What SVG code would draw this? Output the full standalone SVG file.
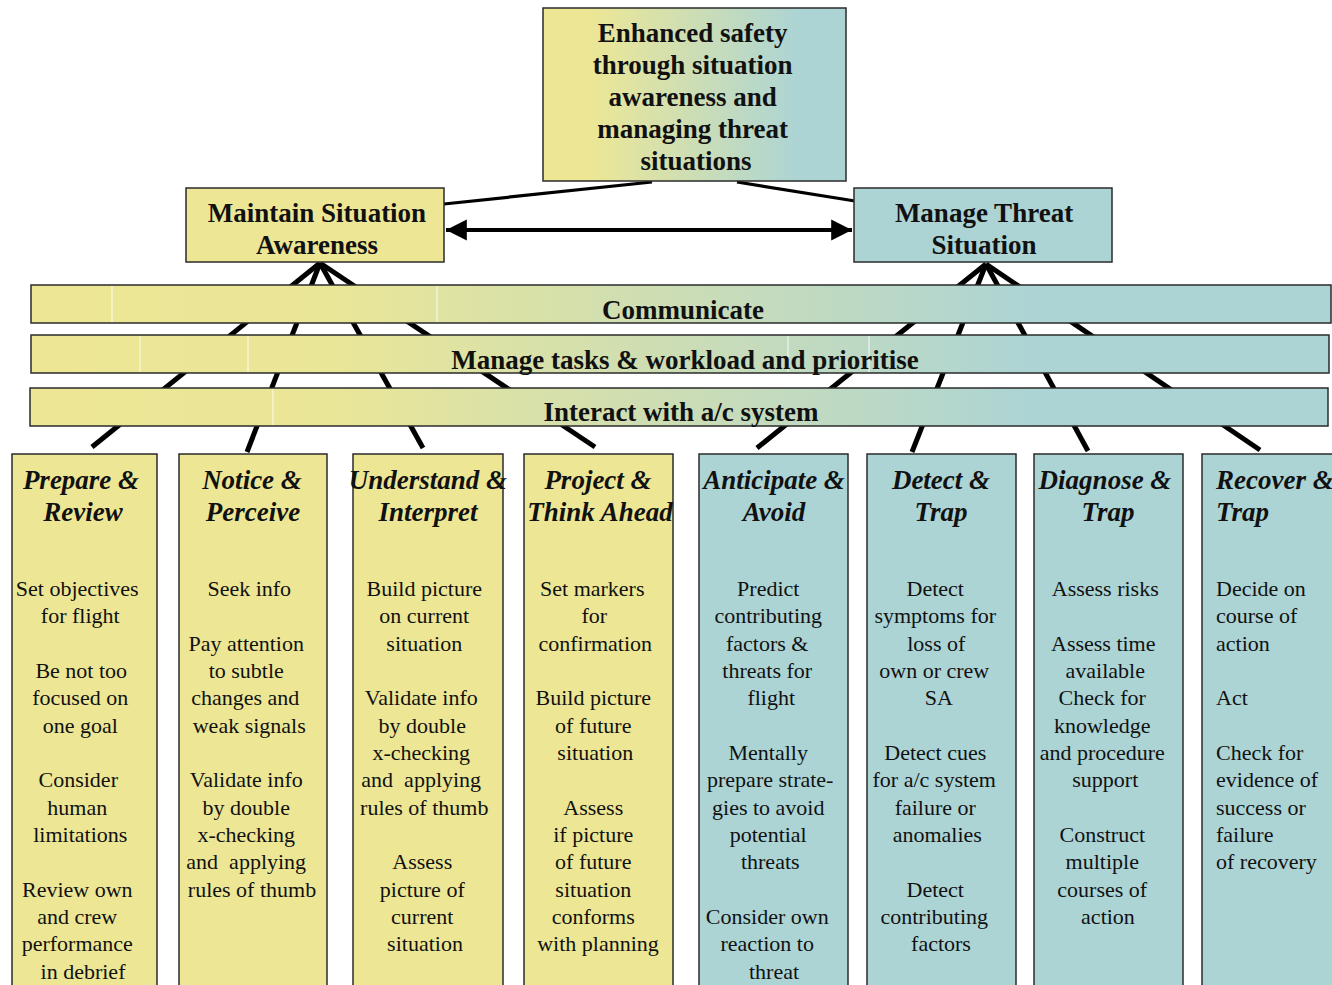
<svg xmlns="http://www.w3.org/2000/svg" width="1332" height="985" viewBox="0 0 1332 985">
  <style>
    .bx { stroke: #2b2b2b; stroke-width: 1.5; }
    .ylw { fill: #EDE795; }
    .tea { fill: #ACD4D5; }
    text { font-family: 'Liberation Serif', 'Times New Roman', 'DejaVu Serif', serif; fill: #111; }
    .ttl { font-weight: bold; font-size: 27px; text-anchor: middle; }
    .hd { font-weight: bold; font-style: italic; font-size: 27px; text-anchor: middle; }
    .bd { font-size: 22px; text-anchor: middle; }
    .lft { text-anchor: start; }
    .ln { stroke: #000; stroke-width: 5; stroke-linecap: butt; fill: none; }
    .thin { stroke: #000; stroke-width: 3.2; fill: none; }
    .seam { stroke: #fff; stroke-width: 1; opacity: 0.9; }
  </style>
  <defs>
    <linearGradient id="gTop" x1="0" y1="0" x2="1" y2="0">
      <stop offset="0" stop-color="#EDE795"/>
      <stop offset="0.15" stop-color="#EDE795"/>
      <stop offset="0.85" stop-color="#ACD4D5"/>
      <stop offset="1" stop-color="#ACD4D5"/>
    </linearGradient>
    <linearGradient id="gBand" x1="0" y1="0" x2="1" y2="0">
      <stop offset="0" stop-color="#EDE795"/>
      <stop offset="0.23" stop-color="#EAE697"/>
      <stop offset="0.78" stop-color="#ACD4D5"/>
      <stop offset="1" stop-color="#ACD4D5"/>
    </linearGradient>
    <marker id="ah" viewBox="0 0 10 10" refX="10" refY="5" markerWidth="5.2" markerHeight="5.6" orient="auto-start-reverse" markerUnits="strokeWidth">
      <path d="M0,0 L10,5 L0,10 Z" fill="#000"/>
    </marker>
  </defs>

  <rect width="1332" height="985" fill="#fff"/>

  <!-- connectors -->
  <g id="connectors">
    <line class="thin" x1="652" y1="182" x2="444" y2="204"/>
    <line class="thin" x1="737" y1="182" x2="855" y2="201"/>
    <line x1="446" y1="230" x2="852" y2="230" stroke="#000" stroke-width="4" marker-start="url(#ah)" marker-end="url(#ah)"/>
    <!-- fan from situation awareness -->
    <line class="ln" x1="320" y1="263" x2="92" y2="447"/>
    <line class="ln" x1="320" y1="263" x2="247" y2="452"/>
    <line class="ln" x1="320" y1="263" x2="423" y2="448"/>
    <line class="ln" x1="320" y1="263" x2="595" y2="447"/>
    <!-- fan from threat management -->
    <line class="ln" x1="986" y1="264" x2="757" y2="448"/>
    <line class="ln" x1="986" y1="264" x2="912" y2="452"/>
    <line class="ln" x1="986" y1="264" x2="1088" y2="451"/>
    <line class="ln" x1="986" y1="264" x2="1260" y2="450"/>
  </g>

  <g id="goal">
    <rect class="bx" x="543" y="8" width="303" height="173" fill="url(#gTop)"/>
    <text class="ttl">
      <tspan x="696" y="42">Enhanced safety</tspan>
      <tspan x="696" y="74">through situation</tspan>
      <tspan x="696" y="106">awareness and</tspan>
      <tspan x="696" y="138">managing threat</tspan>
      <tspan x="696" y="170">situations</tspan>
    </text>
  </g>

  <g id="maintain-sa">
    <rect class="bx ylw" x="186" y="188" width="258" height="74"/>
    <text class="ttl"><tspan x="317" y="222">Maintain Situation</tspan><tspan x="317" y="254">Awareness</tspan></text>
  </g>

  <g id="manage-threat">
    <rect class="bx tea" x="854" y="188" width="258" height="74"/>
    <text class="ttl"><tspan x="984" y="222">Manage Threat</tspan><tspan x="984" y="254">Situation</tspan></text>
  </g>

  <g id="communicate">
    <rect class="bx" x="31" y="285" width="1300" height="38" fill="url(#gBand)"/>
    <line class="seam" x1="112" y1="286" x2="112" y2="322"/>
    <line class="seam" x1="437" y1="286" x2="437" y2="322"/>
    <text class="ttl" x="683" y="319">Communicate</text>
  </g>

  <g id="manage-tasks">
    <rect class="bx" x="31" y="335" width="1298" height="38" fill="url(#gBand)"/>
    <line class="seam" x1="140" y1="336" x2="140" y2="372"/>
    <line class="seam" x1="248" y1="336" x2="248" y2="372"/>
    <line class="seam" x1="788" y1="336" x2="788" y2="372"/>
    <line class="seam" x1="869" y1="336" x2="869" y2="372"/>
    <text class="ttl" x="685" y="369">Manage tasks &amp; workload and prioritise</text>
  </g>

  <g id="interact">
    <rect class="bx" x="30" y="388" width="1298" height="38" fill="url(#gBand)"/>
    <line class="seam" x1="273" y1="389" x2="273" y2="425"/>
    <text class="ttl" x="681" y="421">Interact with a/c system</text>
  </g>

  <g id="prepare-review">
    <rect class="bx ylw" x="12" y="454" width="145" height="540"/>
    <text class="hd"><tspan x="81" y="489">Prepare &amp;</tspan><tspan x="83" y="521">Review</tspan></text>
    <text class="bd">
      <tspan x="80" y="596">Set objectives</tspan>
      <tspan x="83" y="623">for flight</tspan>
      <tspan x="84" y="678">Be not too</tspan>
      <tspan x="83" y="705">focused on</tspan>
      <tspan x="83" y="733">one goal</tspan>
      <tspan x="81" y="787">Consider</tspan>
      <tspan x="80" y="815">human</tspan>
      <tspan x="83" y="842">limitations</tspan>
      <tspan x="80" y="897">Review own</tspan>
      <tspan x="80" y="924">and crew</tspan>
      <tspan x="80" y="951">performance</tspan>
      <tspan x="83" y="979">in debrief</tspan>
    </text>
  </g>

  <g id="notice-perceive">
    <rect class="bx ylw" x="179" y="454" width="148" height="540"/>
    <text class="hd"><tspan x="252" y="489">Notice &amp;</tspan><tspan x="253" y="521">Perceive</tspan></text>
    <text class="bd">
      <tspan x="252" y="596">Seek info</tspan>
      <tspan x="249" y="651">Pay attention</tspan>
      <tspan x="249" y="678">to subtle</tspan>
      <tspan x="248" y="705">changes and</tspan>
      <tspan x="252" y="733">weak signals</tspan>
      <tspan x="249" y="787">Validate info</tspan>
      <tspan x="249" y="815">by double</tspan>
      <tspan x="249" y="842">x-checking</tspan>
      <tspan x="249" y="869">and&#160; applying</tspan>
      <tspan x="252" y="897">rules of thumb</tspan>
    </text>
  </g>

  <g id="understand-interpret">
    <rect class="bx ylw" x="353" y="454" width="150" height="540"/>
    <text class="hd"><tspan x="428" y="489">Understand &amp;</tspan><tspan x="428" y="521">Interpret</tspan></text>
    <text class="bd">
      <tspan x="427" y="596">Build picture</tspan>
      <tspan x="427" y="623">on current</tspan>
      <tspan x="427" y="651">situation</tspan>
      <tspan x="424" y="705">Validate info</tspan>
      <tspan x="425" y="733">by double</tspan>
      <tspan x="424" y="760">x-checking</tspan>
      <tspan x="424" y="787">and&#160; applying</tspan>
      <tspan x="427" y="815">rules of thumb</tspan>
      <tspan x="425" y="869">Assess</tspan>
      <tspan x="425" y="897">picture of</tspan>
      <tspan x="425" y="924">current</tspan>
      <tspan x="425" y="951">situation</tspan>
    </text>
  </g>

  <g id="project-think-ahead">
    <rect class="bx ylw" x="524" y="454" width="149" height="540"/>
    <text class="hd"><tspan x="598" y="489">Project &amp;</tspan><tspan x="600" y="521">Think Ahead</tspan></text>
    <text class="bd">
      <tspan x="595" y="596">Set markers</tspan>
      <tspan x="597" y="623">for</tspan>
      <tspan x="598" y="651">confirmation</tspan>
      <tspan x="596" y="705">Build picture</tspan>
      <tspan x="596" y="733">of future</tspan>
      <tspan x="598" y="760">situation</tspan>
      <tspan x="596" y="815">Assess</tspan>
      <tspan x="596" y="842">if picture</tspan>
      <tspan x="596" y="869">of future</tspan>
      <tspan x="596" y="897">situation</tspan>
      <tspan x="596" y="924">conforms</tspan>
      <tspan x="598" y="951">with planning</tspan>
    </text>
  </g>

  <g id="anticipate-avoid">
    <rect class="bx tea" x="699" y="454" width="149" height="540"/>
    <text class="hd"><tspan x="774" y="489">Anticipate &amp;</tspan><tspan x="774" y="521">Avoid</tspan></text>
    <text class="bd">
      <tspan x="771" y="596">Predict</tspan>
      <tspan x="771" y="623">contributing</tspan>
      <tspan x="770" y="651">factors &amp;</tspan>
      <tspan x="770" y="678">threats for</tspan>
      <tspan x="774" y="705">flight</tspan>
      <tspan x="771" y="760">Mentally</tspan>
      <tspan x="773" y="787">prepare strate-</tspan>
      <tspan x="771" y="815">gies to avoid</tspan>
      <tspan x="771" y="842">potential</tspan>
      <tspan x="773" y="869">threats</tspan>
      <tspan x="770" y="924">Consider own</tspan>
      <tspan x="770" y="951">reaction to</tspan>
      <tspan x="774" y="979">threat</tspan>
    </text>
  </g>

  <g id="detect-trap">
    <rect class="bx tea" x="867" y="454" width="149" height="540"/>
    <text class="hd"><tspan x="941" y="489">Detect &amp;</tspan><tspan x="941" y="521">Trap</tspan></text>
    <text class="bd">
      <tspan x="938" y="596">Detect</tspan>
      <tspan x="938" y="623">symptoms for</tspan>
      <tspan x="939" y="651">loss of</tspan>
      <tspan x="937" y="678">own or crew</tspan>
      <tspan x="941" y="705">SA</tspan>
      <tspan x="938" y="760">Detect cues</tspan>
      <tspan x="937" y="787">for a/c system</tspan>
      <tspan x="938" y="815">failure or</tspan>
      <tspan x="940" y="842">anomalies</tspan>
      <tspan x="938" y="897">Detect</tspan>
      <tspan x="937" y="924">contributing</tspan>
      <tspan x="941" y="951">factors</tspan>
    </text>
  </g>

  <g id="diagnose-trap">
    <rect class="bx tea" x="1034" y="454" width="149" height="540"/>
    <text class="hd"><tspan x="1105" y="489">Diagnose &amp;</tspan><tspan x="1108" y="521">Trap</tspan></text>
    <text class="bd">
      <tspan x="1108" y="596">Assess risks</tspan>
      <tspan x="1106" y="651">Assess time</tspan>
      <tspan x="1108" y="678">available</tspan>
      <tspan x="1105" y="705">Check for</tspan>
      <tspan x="1105" y="733">knowledge</tspan>
      <tspan x="1105" y="760">and procedure</tspan>
      <tspan x="1108" y="787">support</tspan>
      <tspan x="1105" y="842">Construct</tspan>
      <tspan x="1105" y="869">multiple</tspan>
      <tspan x="1105" y="897">courses of</tspan>
      <tspan x="1108" y="924">action</tspan>
    </text>
  </g>

  <g id="recover-trap">
    <rect class="bx tea" x="1202" y="454" width="150" height="540"/>
    <text class="hd lft"><tspan x="1216" y="489">Recover &amp;</tspan><tspan x="1216" y="521">Trap</tspan></text>
    <text class="bd lft">
      <tspan x="1216" y="596">Decide on</tspan>
      <tspan x="1216" y="623">course of</tspan>
      <tspan x="1216" y="651">action</tspan>
      <tspan x="1216" y="705">Act</tspan>
      <tspan x="1216" y="760">Check for</tspan>
      <tspan x="1216" y="787">evidence of</tspan>
      <tspan x="1216" y="815">success or</tspan>
      <tspan x="1216" y="842">failure</tspan>
      <tspan x="1216" y="869">of recovery</tspan>
    </text>
  </g>
</svg>
